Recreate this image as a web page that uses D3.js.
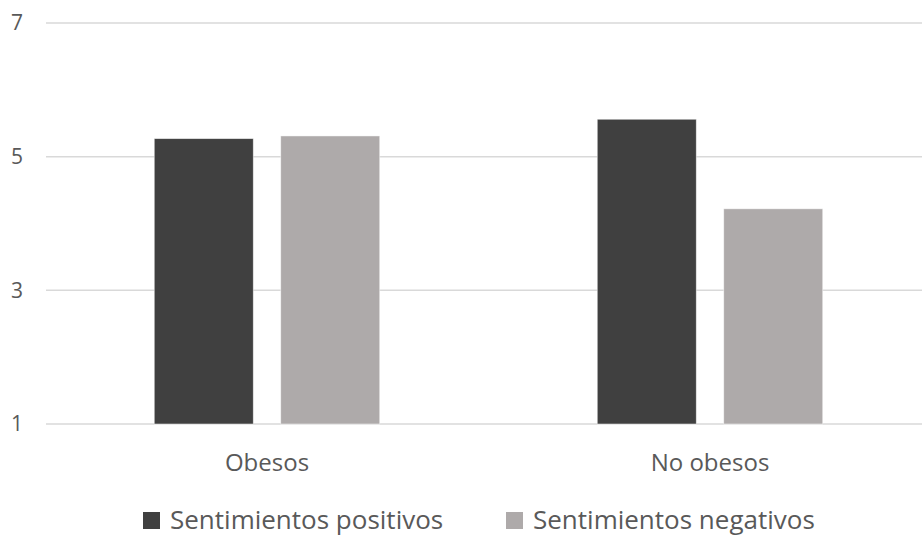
<!DOCTYPE html>
<html>
<head>
<meta charset="utf-8">
<script src="https://cdn.jsdelivr.net/npm/d3@7/dist/d3.min.js"></script>
<style>
  body { margin: 0; background: #fff; }
  svg { display: block; }
  svg text { font-family: "Segoe UI", "Open Sans", sans-serif; }
</style>
</head>
<body>
<div id="chart"></div>
<script>
const categories = ['Obesos', 'No obesos'];
const series = ['Sentimientos positivos', 'Sentimientos negativos'];
const positivos = [5.27, 5.56];
const negativos = [5.31, 4.22];
const yTicks = [1, 3, 5, 7];
const colors = ['#404040', '#AEAAAA'];

const w = 922, h = 536;
const svg = d3.select('#chart').append('svg')
  .attr('width', w)
  .attr('height', h);

const values = [positivos, negativos];
const rows = categories.map((c, i) => ({
  cat: c,
  vals: series.map((s, j) => ({ s: s, j: j, v: values[j][i] }))
}));

const yScale = d3.scaleLinear()
  .domain([1, 7])
  .range([424, 23]);

const x0 = d3.scaleBand()
  .domain(categories)
  .range([45.5, 931.5])
  .paddingInner(0.491)
  .paddingOuter(0.2455);

const x1 = d3.scaleBand()
  .domain(series)
  .range([0, x0.bandwidth()])
  .paddingInner(0.217);

// gridlines
svg.append('g')
  .selectAll('line')
  .data(yTicks)
  .enter()
  .append('line')
  .attr('x1', 46)
  .attr('x2', w)
  .attr('y1', d => yScale(d))
  .attr('y2', d => yScale(d))
  .attr('stroke', '#D9D9D9')
  .attr('stroke-width', 1.5);

// y axis labels
const yAxis = d3.axisLeft(yScale).tickValues(yTicks).tickFormat(d3.format('d')).tickSize(0).tickPadding(0);
svg.append('g')
  .attr('transform', 'translate(23,0)')
  .call(yAxis)
  .call(g => g.select('.domain').remove())
  .selectAll('text')
  .attr('fill', '#595959')
  .style('font-size', '21px');

// bars
svg.append('g')
  .selectAll('g')
  .data(rows)
  .enter()
  .append('g')
  .attr('transform', d => 'translate(' + x0(d.cat) + ',0)')
  .selectAll('rect')
  .data(d => d.vals)
  .enter()
  .append('rect')
  .attr('x', d => x1(d.s))
  .attr('y', d => yScale(d.v))
  .attr('width', x1.bandwidth())
  .attr('height', d => yScale(1) - yScale(d.v))
  .attr('fill', d => colors[d.j])
  .attr('stroke', '#fff')
  .attr('stroke-opacity', 0.6)
  .attr('stroke-width', 0.8);

// x axis labels
const xAxis = d3.axisBottom(x0).tickSize(0).tickPadding(0);
svg.append('g')
  .call(xAxis)
  .call(g => g.select('.domain').remove())
  .selectAll('text')
  .attr('fill', '#595959')
  .attr('y', 471)
  .attr('dy', 0)
  .style('font-size', '24px');

// legend
const legendX = [143, 506];
const legend = svg.append('g')
  .selectAll('g')
  .data(series)
  .enter()
  .append('g')
  .attr('transform', (d, i) => 'translate(' + legendX[i] + ',512)');

legend.append('rect')
  .attr('width', 17)
  .attr('height', 17)
  .attr('fill', (d, i) => colors[i]);

legend.append('text')
  .attr('x', 27)
  .attr('y', 17)
  .attr('fill', '#595959')
  .style('font-size', '26px')
  .text(d => d);
</script>
</body>
</html>
